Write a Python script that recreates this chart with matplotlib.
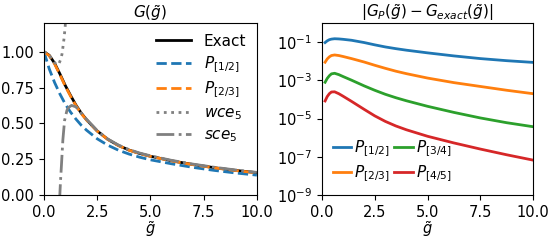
import matplotlib
matplotlib.use('Agg')
import matplotlib.pyplot as plt
import numpy as np

# left panel: G(g~)
g_exact = [0, 0.25, 0.5, 0.75, 1.0, 1.25, 1.5, 1.75, 2.0, 2.5, 3.0, 3.5, 4.0, 4.5, 5.0, 6.0, 7.0, 8.0, 9.0, 10.0]
G_exact = [1.0, 0.975, 0.92, 0.845, 0.765, 0.695, 0.628, 0.572, 0.525, 0.447, 0.388, 0.345, 0.313, 0.289, 0.27, 0.238, 0.212, 0.19, 0.171, 0.155]

g_p12 = [0, 0.25, 0.5, 0.75, 1.0, 1.25, 1.5, 1.75, 2.0, 2.5, 3.0, 3.5, 4.0, 4.5, 5.0, 6.0, 7.0, 8.0, 9.0, 10.0]
G_p12 = [1.0, 0.88, 0.785, 0.705, 0.635, 0.578, 0.53, 0.487, 0.452, 0.392, 0.347, 0.312, 0.285, 0.263, 0.245, 0.217, 0.192, 0.171, 0.153, 0.138]

g_p23 = [0, 0.25, 0.5, 0.75, 1.0, 1.25, 1.5, 1.75, 2.0, 2.5, 3.0, 3.5, 4.0, 4.5, 5.0, 6.0, 7.0, 8.0, 9.0, 10.0]
G_p23 = [1.0, 0.972, 0.915, 0.84, 0.76, 0.69, 0.624, 0.569, 0.523, 0.446, 0.387, 0.344, 0.312, 0.288, 0.269, 0.237, 0.211, 0.189, 0.17, 0.154]

g_wce = [0, 0.2, 0.4, 0.5, 0.6, 0.7, 0.8, 0.85, 0.9, 0.95, 1.0, 1.02]
G_wce = [1.0, 0.985, 0.945, 0.925, 0.908, 0.915, 0.95, 0.985, 1.04, 1.1, 1.18, 1.22]

g_sce = [0.73, 0.78, 0.82, 0.89, 0.97, 1.08, 1.15, 1.3, 1.5, 1.75, 2.0, 2.5, 3.0, 3.5, 4.0, 4.5, 5.0, 6.0, 7.0, 8.0, 9.0, 10.0]
G_sce = [-0.05, 0.1, 0.2, 0.385, 0.52, 0.59, 0.61, 0.625, 0.615, 0.572, 0.528, 0.449, 0.39, 0.348, 0.316, 0.292, 0.273, 0.241, 0.215, 0.193, 0.174, 0.157]

# right panel: log10 |G_P - G_exact|
g_err = [0.15, 0.25, 0.35, 0.45, 0.6, 0.8, 1.0, 1.4, 2.0, 2.5, 3.0, 3.5, 4.0, 5.0, 6.25, 7.5, 8.75, 10.0]
log_err_12 = [-1.02, -0.93, -0.87, -0.84, -0.82, -0.83, -0.85, -0.90, -1.02, -1.14, -1.25, -1.34, -1.42, -1.56, -1.72, -1.86, -1.97, -2.06]
log_err_23 = [-2.05, -1.88, -1.77, -1.70, -1.67, -1.70, -1.75, -1.86, -2.04, -2.21, -2.37, -2.52, -2.65, -2.88, -3.12, -3.32, -3.52, -3.70]
log_err_34 = [-3.10, -2.90, -2.76, -2.66, -2.63, -2.70, -2.80, -2.99, -3.29, -3.52, -3.73, -3.91, -4.07, -4.36, -4.68, -4.97, -5.22, -5.43]
log_err_45 = [-4.08, -3.85, -3.70, -3.61, -3.60, -3.70, -3.83, -4.10, -4.52, -4.86, -5.15, -5.39, -5.59, -5.93, -6.28, -6.60, -6.90, -7.18]

err_labels = ['$P_{[1/2]}$', '$P_{[2/3]}$', '$P_{[3/4]}$', '$P_{[4/5]}$']
err_colors = ['tab:blue', 'tab:orange', 'tab:green', 'tab:red']

plt.rcParams['font.size'] = 10.5

fig = plt.figure(figsize=(5.56, 2.43), dpi=100)
ax1 = fig.add_axes([0.079, 0.198, 0.383, 0.707])
ax2 = fig.add_axes([0.579, 0.198, 0.380, 0.707])

lw = 2.0
ax1.plot(g_exact, G_exact, color='black', lw=lw, label='Exact')
ax1.plot(g_p12, G_p12, '--', color='tab:blue', lw=lw, label='$P_{[1/2]}$')
ax1.plot(g_p23, G_p23, '--', color='tab:orange', lw=lw, label='$P_{[2/3]}$')
ax1.plot(g_wce, G_wce, ':', color='gray', lw=lw, label='$wce_5$')
ax1.plot(g_sce, G_sce, '-.', color='gray', lw=lw, label='$sce_5$')
ax1.set_xlim(0, 10)
ax1.set_ylim(0, 1.2)
ax1.set_xticks([0, 2.5, 5, 7.5, 10])
ax1.set_yticks([0, 0.25, 0.5, 0.75, 1.0])
ax1.set_title(r'$G(\tilde{g})$', fontsize=11, pad=4)
ax1.set_xlabel(r'$\tilde{g}$', labelpad=0)
ax1.legend(loc='upper right', frameon=False, handlelength=2.3, fontsize=11,
           borderaxespad=0.3, labelspacing=0.35)

for vals, lab, col in zip([log_err_12, log_err_23, log_err_34, log_err_45], err_labels, err_colors):
    ax2.plot(g_err, 10.0 ** np.array(vals), color=col, lw=lw, label=lab)
ax2.set_yscale('log')
ax2.set_xlim(0, 10)
ax2.set_ylim(1e-9, 1)
ax2.set_xticks([0, 2.5, 5, 7.5, 10])
ax2.set_yticks([1e-9, 1e-7, 1e-5, 1e-3, 1e-1])
ax2.minorticks_off()
ax2.set_title(r'$|G_P(\tilde{g}) - G_{exact}(\tilde{g})|$', fontsize=11, pad=4)
ax2.set_xlabel(r'$\tilde{g}$', labelpad=0)
ax2.legend(loc='lower left', ncol=2, frameon=False, handlelength=1.2,
           handletextpad=0.2, columnspacing=0.3, fontsize=11,
           borderaxespad=0.3, labelspacing=0.3)

fig.savefig('out.png', dpi=100)
